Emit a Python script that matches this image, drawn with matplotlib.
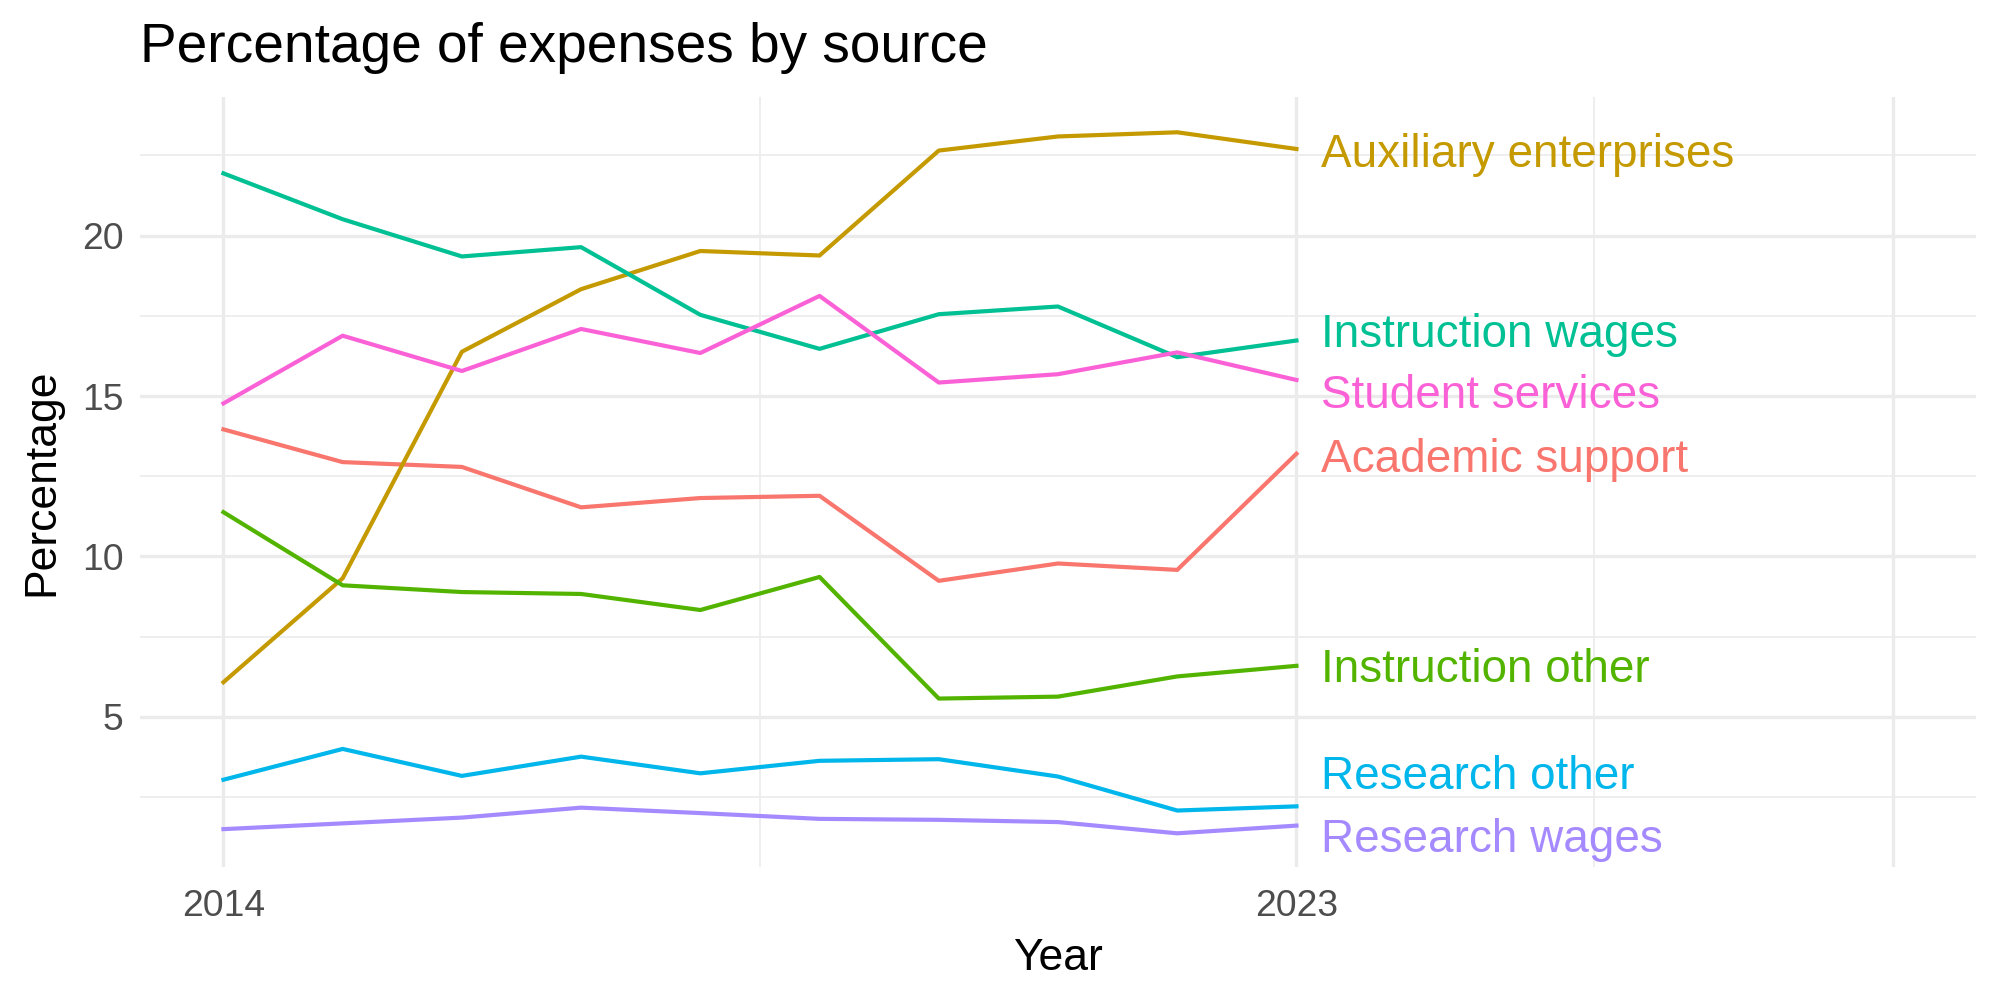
import matplotlib.pyplot as plt

plt.rcParams['font.family'] = ['Liberation Sans', 'DejaVu Sans']

years = list(range(2014, 2024))

sources = ['Academic support', 'Auxiliary enterprises', 'Instruction other',
           'Instruction wages', 'Research other', 'Research wages',
           'Student services']

academic_support = [13.96, 12.94, 12.79, 11.53, 11.82, 11.89, 9.24, 9.78, 9.58, 13.20]
auxiliary_enterprises = [6.08, 9.32, 16.38, 18.33, 19.52, 19.38, 22.65, 23.09, 23.22, 22.70]
instruction_other = [11.38, 9.10, 8.89, 8.83, 8.33, 9.36, 5.57, 5.63, 6.26, 6.59]
instruction_wages = [21.94, 20.51, 19.35, 19.64, 17.53, 16.47, 17.55, 17.79, 16.21, 16.73]
research_other = [3.04, 4.00, 3.16, 3.76, 3.24, 3.63, 3.68, 3.14, 2.08, 2.21]
research_wages = [1.50, 1.68, 1.86, 2.17, 2.00, 1.82, 1.79, 1.72, 1.37, 1.61]
student_services = [14.77, 16.88, 15.78, 17.09, 16.34, 18.12, 15.42, 15.68, 16.36, 15.50]

# label heights after the repel step in the original
label_y = [13.17, 22.66, 6.63, 17.06, 3.29, 1.31, 15.16]

colors = ['#F8766D', '#C49A00', '#53B400', '#00C094', '#00B6EB', '#A58AFF', '#FB61D7']

series = [academic_support, auxiliary_enterprises, instruction_other,
          instruction_wages, research_other, research_wages, student_services]

fig = plt.figure(figsize=(10, 5), dpi=200)
ax = fig.add_axes([0.07, 0.133, 0.918, 0.77])

# grid like theme_minimal
for x in [2014, 2023, 2028]:
    ax.axvline(x, color='#EBEBEB', lw=1.2, zorder=0)
for x in [2018.5, 2025.5]:
    ax.axvline(x, color='#EBEBEB', lw=0.6, zorder=0)
for y in [5, 10, 15, 20]:
    ax.axhline(y, color='#EBEBEB', lw=1.2, zorder=0)
for y in [2.5, 7.5, 12.5, 17.5, 22.5]:
    ax.axhline(y, color='#EBEBEB', lw=0.6, zorder=0)

for name, vals, c, ly in zip(sources, series, colors, label_y):
    ax.plot(years, vals, color=c, lw=1.5, zorder=2)
    ax.annotate(name, (years[-1] + 0.21, ly), xytext=(0, -1.8),
                textcoords='offset points', color=c, fontsize=16.5,
                ha='left', va='center', zorder=3)

ax.set_xlim(2013.3, 2028.7)
ax.set_ylim(0.32, 24.32)
ax.set_xticks([2014, 2023, 2028])
ax.set_xticklabels(['2014', '2023', ''])
ax.set_yticks([5, 10, 15, 20])
ax.tick_params(length=0, labelsize=13.4, labelcolor='#4D4D4D', pad=6)
ax.tick_params(axis='x', pad=8)
for s in ax.spines.values():
    s.set_visible(False)

ax.set_xlabel('Year', fontsize=16, labelpad=5)
ax.set_ylabel('Percentage', fontsize=16, labelpad=7)
ax.set_title('Percentage of expenses by source', fontsize=19.8, loc='left', pad=12.5)

fig.savefig('out.png', dpi=200, facecolor='white')
